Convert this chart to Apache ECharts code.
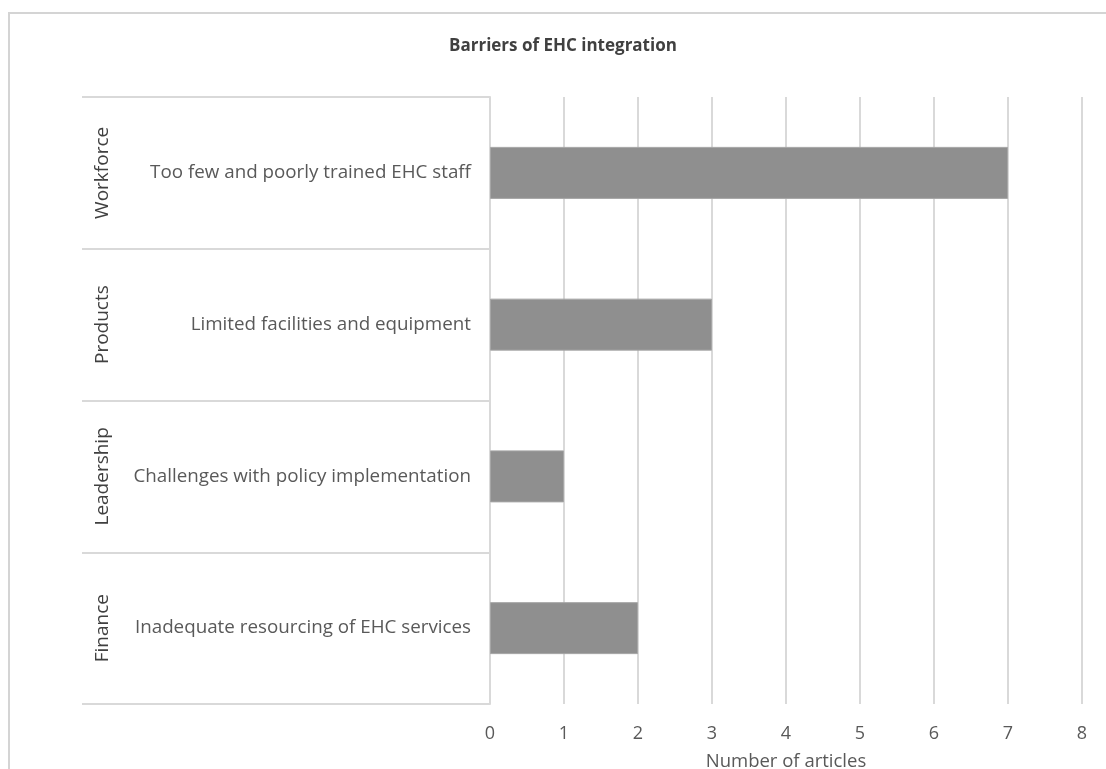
<!DOCTYPE html>
<html>
<head>
<meta charset="UTF-8"/>
<title>Barriers of EHC integration</title>
<script src="https://cdn.jsdelivr.net/npm/echarts@6/dist/echarts.min.js"></script>
<style>
html, body { margin: 0; padding: 0; background: #fff; }
#chart { width: 1106px; height: 769px; }
</style>
</head>
<body>
<div id="chart"></div>
<script type="text/javascript">
// data
var barriers = ['Too few and poorly trained EHC staff', 'Limited facilities and equipment',
                'Challenges with policy implementation', 'Inadequate resourcing of EHC services'];
var groups = ['Workforce', 'Products', 'Leadership', 'Finance'];
var articles = [7, 3, 1, 2];

var myChart = echarts.init(document.getElementById('chart'));
var font = '"Open Sans", "Noto Sans", sans-serif';
var grey = '#d9d9d9';

var option = {
  animation: false,
  backgroundColor: '#fff',
  textStyle: { fontFamily: font },
  title: {
    text: 'Barriers of EHC integration',
    left: 444,
    top: 33,
    textStyle: { fontFamily: font, fontSize: 17, fontWeight: 'bold', color: '#404040' }
  },
  // outer frame of the chart
  graphic: [{
    type: 'rect',
    shape: { x: 9, y: 13, width: 1200, height: 900 },
    style: { fill: null, stroke: '#d4d4d4', lineWidth: 2 },
    silent: true
  }],
  grid: { left: 490, right: 24, top: 97, bottom: 65, containLabel: false, outerBoundsMode: 'none' },
  xAxis: {
    type: 'value',
    min: 0,
    max: 8,
    interval: 1,
    name: 'Number of articles',
    nameLocation: 'middle',
    nameGap: 48,
    nameTextStyle: { fontFamily: font, fontSize: 18.5, color: '#595959' },
    axisLine: { show: false },
    axisTick: { show: false },
    axisLabel: { margin: 21, fontFamily: font, fontSize: 18, color: '#595959' },
    splitLine: { lineStyle: { color: grey, width: 2 } }
  },
  yAxis: [{
    type: 'category',
    data: barriers,
    inverse: true,
    axisLine: { show: true, lineStyle: { color: grey, width: 2 } },
    axisTick: { show: true, length: 408, lineStyle: { color: grey, width: 2 } },
    axisLabel: { margin: 19, fontFamily: font, fontSize: 18.8, color: '#595959' },
    splitLine: { show: false }
  }, {
    type: 'category',
    data: groups,
    inverse: true,
    position: 'left',
    offset: 378,
    axisLine: { show: false },
    axisTick: { show: false },
    axisLabel: { rotate: 90, margin: 0, fontFamily: font, fontSize: 19, color: '#404040' },
    splitLine: { show: false }
  }],
  series: [{
    type: 'bar',
    yAxisIndex: 0,
    data: articles,
    barWidth: 52,
    itemStyle: { color: '#8f8f8f', borderColor: '#a6a6a6', borderWidth: 1 }
  }]
};

if (option && typeof option === "object") {
  myChart.setOption(option, true);
}
</script>
</body>
</html>
